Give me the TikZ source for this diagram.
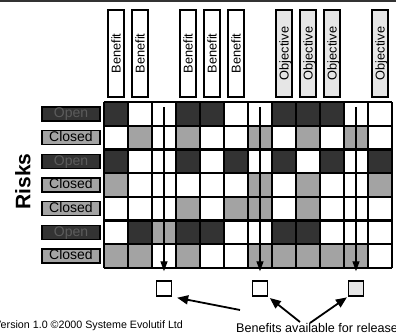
\documentclass[tikz,border=0pt]{standalone}
\usepackage{fontspec}
\setmainfont{Liberation Sans}
\usetikzlibrary{arrows.meta}
\definecolor{darkcell}{HTML}{333333}
\definecolor{greycell}{HTML}{A3A3A3}
\definecolor{paleobj}{HTML}{E6E6E6}
\definecolor{opentext}{HTML}{5C5C5C}

\begin{document}
\begin{tikzpicture}[x=24pt, y=23.7pt,
    benefit/.style={draw, line width=1.5pt, fill=white, rotate=90, minimum width=87pt, minimum height=16pt, inner sep=0pt, text height=9.3pt, text depth=0pt, font=\fontsize{12.8}{13}\selectfont},
    objective/.style={benefit, fill=paleobj},
    openrisk/.style={draw, line width=1.3pt, fill=darkcell, text=opentext, minimum width=58pt, minimum height=14pt, inner sep=0pt, text height=10pt, text depth=2.5pt, font=\fontsize{14}{14}\selectfont},
    closedrisk/.style={openrisk, fill=greycell, text=black},
    release/.style={draw, line width=1.5pt, fill=white, minimum size=15pt, inner sep=0pt},
    down/.style={line width=1.3pt, -{Triangle[length=10pt,width=7pt]}},
    pointer/.style={line width=1.8pt, -{Triangle[length=11pt,width=9pt]}}]
    \useasboundingbox (-4.333,4.304) rectangle (12.167,-9.747);
    \draw[line width=2pt, darkcell] (-4.333,4.262) -- (12.167,4.262);
    % column headings
    \node[benefit] (h1) at (0.5,2.05) {Benefit};
    \node[benefit] (h2) at (1.5,2.05) {Benefit};
    \node[benefit] (h4) at (3.5,2.05) {Benefit};
    \node[benefit] (h5) at (4.5,2.05) {Benefit};
    \node[benefit] (h6) at (5.5,2.05) {Benefit};
    \node[objective] (h8) at (7.5,2.05) {Objective};
    \node[objective] (h9) at (8.5,2.05) {Objective};
    \node[objective] (h10) at (9.5,2.05) {Objective};
    \node[objective] (h12) at (11.5,2.05) {Objective};
    % risks
    \node[rotate=90, font=\fontsize{21}{21}\selectfont\bfseries] (risks) at (-3.375,-3.35) {Risks};
    \node[openrisk] (r1) at (-1.375,-0.5) {Open};
    \node[closedrisk] (r2) at (-1.375,-1.5) {Closed};
    \node[openrisk] (r3) at (-1.375,-2.5) {Open};
    \node[closedrisk] (r4) at (-1.375,-3.5) {Closed};
    \node[closedrisk] (r5) at (-1.375,-4.5) {Closed};
    \node[openrisk] (r6) at (-1.375,-5.5) {Open};
    \node[closedrisk] (r7) at (-1.375,-6.5) {Closed};
    % open cells
    \fill[darkcell] (0,0) rectangle (1,-1);
    \fill[darkcell] (3,0) rectangle (4,-1);
    \fill[darkcell] (4,0) rectangle (5,-1);
    \fill[darkcell] (7,0) rectangle (8,-1);
    \fill[darkcell] (8,0) rectangle (9,-1);
    \fill[darkcell] (9,0) rectangle (10,-1);
    \fill[darkcell] (0,-2) rectangle (1,-3);
    \fill[darkcell] (3,-2) rectangle (4,-3);
    \fill[darkcell] (5,-2) rectangle (6,-3);
    \fill[darkcell] (7,-2) rectangle (8,-3);
    \fill[darkcell] (9,-2) rectangle (10,-3);
    \fill[darkcell] (11,-2) rectangle (12,-3);
    \fill[darkcell] (1,-5) rectangle (2,-6);
    \fill[darkcell] (3,-5) rectangle (4,-6);
    \fill[darkcell] (4,-5) rectangle (5,-6);
    \fill[darkcell] (7,-5) rectangle (8,-6);
    \fill[darkcell] (8,-5) rectangle (9,-6);
    % closed cells
    \fill[greycell] (1,-1) rectangle (2,-2);
    \fill[greycell] (3,-1) rectangle (4,-2);
    \fill[greycell] (6,-1) rectangle (7,-2);
    \fill[greycell] (8,-1) rectangle (9,-2);
    \fill[greycell] (10,-1) rectangle (11,-2);
    \fill[greycell] (0,-3) rectangle (1,-4);
    \fill[greycell] (6,-3) rectangle (7,-4);
    \fill[greycell] (8,-3) rectangle (9,-4);
    \fill[greycell] (11,-3) rectangle (12,-4);
    \fill[greycell] (3,-4) rectangle (4,-5);
    \fill[greycell] (5,-4) rectangle (6,-5);
    \fill[greycell] (6,-4) rectangle (7,-5);
    \fill[greycell] (8,-4) rectangle (9,-5);
    \fill[greycell] (2,-5) rectangle (3,-6);
    \fill[greycell] (0,-6) rectangle (1,-7);
    \fill[greycell] (1,-6) rectangle (2,-7);
    \fill[greycell] (3,-6) rectangle (4,-7);
    \fill[greycell] (6,-6) rectangle (7,-7);
    \fill[greycell] (7,-6) rectangle (8,-7);
    \fill[greycell] (8,-6) rectangle (9,-7);
    \fill[greycell] (9,-6) rectangle (10,-7);
    \fill[greycell] (10,-6) rectangle (11,-7);
    \draw[line width=2.2pt, step=1] (0,0) grid (12,-7);
    % releases
    \node[release] (s3) at (2.5,-7.87) {};
    \node[release] (s7) at (6.5,-7.87) {};
    \node[release, fill=paleobj] (s11) at (10.5,-7.87) {};
    \coordinate (t3) at (2.5,-0.21);
    \coordinate (t7) at (6.5,-0.21);
    \coordinate (t11) at (10.5,-0.21);
    \draw[down, shorten >=9pt] (t3) -- (s3);
    \draw[down, shorten >=9pt] (t7) -- (s7);
    \draw[down, shorten >=9pt] (t11) -- (s11);
    % footer
    \node[anchor=base west, inner sep=0pt, font=\fontsize{10.7}{11}\selectfont] (version) at (-4.583,-9.536) {Version 1.0 ©2000 Systeme Evolutif Ltd};
    \node[anchor=base west, inner sep=0pt, font=\fontsize{12.6}{13}\selectfont] (avail) at (5.5,-9.705) {Benefits available for release};
    \coordinate (p1) at (5.667,-8.776);
    \coordinate (p2) at (8.167,-9.283);
    \coordinate (p3) at (8.583,-9.325);
    \draw[pointer, shorten >=5pt] (p1) -- (s3.south east);
    \draw[pointer, shorten >=2pt] (p2) -- (s7.south east);
    \draw[pointer, shorten >=1pt] (p3) -- (s11.south west);
\end{tikzpicture}
\end{document}
